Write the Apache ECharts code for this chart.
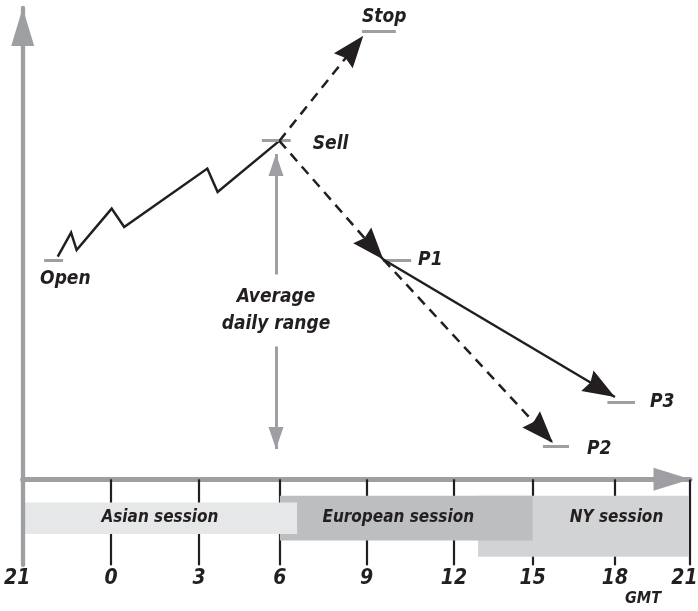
<!DOCTYPE html>
<html>
<head>
<meta charset="utf-8">
<script src="https://cdn.jsdelivr.net/npm/echarts@6/dist/echarts.min.js"></script>
<style>
html,body{margin:0;padding:0;background:#fff;}
#c{width:698px;height:611px;}
</style>
</head>
<body>
<div id="c"></div>
<script>
// ---------------- DATA ----------------
// Time axis: hours after 21:00 GMT, as drawn (tick positions)
const tickPos    = [0, 3.18, 6.34, 9.25, 12.37, 15.51, 18.34, 21.30, 24];
const tickLabels = ['21', '0', '3', '6', '9', '12', '15', '18', '21'];

// Price path from the open up to the sell level
const pathTime  = [1.26, 1.74, 1.94, 3.20, 3.65, 6.64, 7.01, 9.23];
const pathPrice = [51.95, 57.56, 53.50, 63.18, 58.87, 72.53, 67.06, 78.98];

// Price levels (short grey markers)
const levelNames = ['Open', 'Sell', 'Stop', 'P1', 'P2', 'P3'];
const levelFrom  = [0.77, 8.60, 12.20, 12.96, 18.71, 21.03];
const levelTo    = [1.45, 9.64, 13.42, 13.97, 19.65, 22.02];
const levelPrice = [51.09, 79.14, 104.56, 51.09, 7.60, 18.05];

// Projected moves (arrows)
const moveFromTime  = [9.23, 9.23, 12.97, 12.97];
const moveFromPrice = [78.98, 78.98, 51.30, 51.30];
const moveToTime    = [12.25, 12.97, 19.07, 21.30];
const moveToPrice   = [103.5, 51.30, 8.50, 19.20];
const moveDashed    = [true, true, true, false];

// Trading sessions
const sessionNames = ['Asian session', 'European session', 'NY session'];
const sessionFrom  = [0, 9.25, 16.38];
const sessionTo    = [9.87, 18.34, 23.96];

// Average daily range arrow
const adrTime   = 9.11;
const adrTop    = 75.9;
const adrBottom = 7.1;
const adrText   = 'Average\ndaily range';

// ---------------- STYLE ----------------
const FONT = "'Liberation Sans Narrow','DejaVu Sans Condensed','Roboto Condensed','Liberation Sans',sans-serif";
const INK = '#231f20';
const GREY = '#9d9fa2';
const ARROW = 'path://M12,0 L24,32 L12,28.5 L0,32 Z';
const sessionStyle = [
  {top: -5.42, bottom: -12.74, color: '#e6e7e8', z2: 3, dx: 0},
  {top: -3.86, bottom: -14.31, color: '#bcbec0', z2: 2, dx: -8},
  {top: -3.86, bottom: -18.05, color: '#d1d3d4', z2: 1, dx: 33}
];
const sessionLabelY = -9.0;
const levelLabelStyle = {
  Open: {position: 'insideStartBottom', distance: [-4, 9]},
  Sell: {position: 'end', distance: 22, verticalAlign: 'top', lineHeight: 8},
  Stop: {position: 'insideStartTop', distance: [0, 5]},
  P1:   {position: 'end', distance: 7},
  P2:   {position: 'end', distance: 18, verticalAlign: 'top', lineHeight: 4},
  P3:   {position: 'end', distance: 15}
};
const labelFont = {fontFamily: FONT, fontSize: 19, fontWeight: 'bold', fontStyle: 'italic', color: INK, opacity: 1};
const tickFont = {color: INK, fontFamily: FONT, fontSize: 21, fontWeight: 'bold', fontStyle: 'italic'};

function tickLabelFor(v) {
  let best = 0;
  tickPos.forEach((p, i) => { if (Math.abs(p - v) < Math.abs(tickPos[best] - v)) best = i; });
  const txt = tickLabels[best];
  return (best === 0 || best === tickPos.length - 1) ? '{edge|' + txt + '}' : txt;
}

const pathData = pathTime.map((t, i) => [t, pathPrice[i]]);

const levelLines = levelNames.map((n, i) => [
  {coord: [levelFrom[i], levelPrice[i]], symbol: 'none'},
  {coord: [levelTo[i], levelPrice[i]], symbol: 'none', name: n,
   label: Object.assign({show: true, formatter: n}, labelFont, levelLabelStyle[n])}
]);

const moveLines = moveFromTime.map((t, i) => [
  {coord: [t, moveFromPrice[i]], symbol: 'none'},
  {coord: [moveToTime[i], moveToPrice[i]], symbol: ARROW, symbolSize: [24, 32], symbolOffset: [0, 16],
   lineStyle: {color: INK, width: 2.5, type: moveDashed[i] ? [10, 7] : 'solid'}}
]);

const adrLines = [[
  {coord: [adrTime, adrBottom], symbol: 'triangle', symbolSize: [15, 22], symbolOffset: [0, 11]},
  {coord: [adrTime, adrTop], symbol: 'triangle', symbolSize: [15, 22], symbolOffset: [0, 11]}
]];

const chart = echarts.init(document.getElementById('c'), null, {renderer: 'canvas', width: 698, height: 611});

const option = {
  animation: false,
  backgroundColor: '#ffffff',
  grid: {left: 22.7, right: 8, top: 8, bottom: 46, containLabel: false, outerBoundsMode: 'none'},
  xAxis: [{
    type: 'value', min: 0, max: 24, position: 'bottom',
    axisLine: {show: true, onZero: true, lineStyle: {color: GREY, width: 5},
      symbol: ['none', 'triangle'], symbolSize: [23, 37], symbolOffset: [0, -18]},
    axisTick: {show: true, customValues: tickPos.slice(1), length: 86, lineStyle: {color: INK, width: 2.2}},
    axisLabel: {show: false},
    splitLine: {show: false},
    name: 'GMT', nameLocation: 'end', nameGap: -47, nameMoveOverlap: false,
    nameTextStyle: {color: INK, fontFamily: FONT, fontSize: 16, fontWeight: 'bold', fontStyle: 'italic',
      align: 'center', verticalAlign: 'top', padding: [112, 0, 0, 0]}
  }, {
    type: 'value', min: 0, max: 24, position: 'bottom', offset: 0,
    axisLine: {show: false, onZero: false},
    axisTick: {show: false},
    splitLine: {show: false},
    axisLabel: Object.assign({show: true, customValues: tickPos, formatter: tickLabelFor, margin: 3,
      showMinLabel: true, showMaxLabel: true, hideOverlap: false,
      rich: {edge: Object.assign({padding: [0, 11, 0, 0]}, tickFont)}}, tickFont)
  }],
  yAxis: {
    type: 'value', min: -20, max: 110, z: 4,
    axisLine: {show: true, onZero: true, lineStyle: {color: GREY, width: 4.3},
      symbol: ['none', 'triangle'], symbolSize: [23, 38], symbolOffset: [0, -19]},
    axisTick: {show: false}, axisLabel: {show: false}, splitLine: {show: false}
  },
  series: [
    {
      name: 'sessions', type: 'custom', z: 2, silent: true,
      data: sessionNames.map((n, i) => [sessionFrom[i], sessionTo[i], i]),
      encode: {x: [0, 1]},
      renderItem: function (params, api) {
        const i = api.value(2);
        const st = sessionStyle[i];
        const p0 = api.coord([api.value(0), st.top]);
        const p1 = api.coord([api.value(1), st.bottom]);
        const ly = api.coord([0, sessionLabelY])[1];
        return {type: 'group', children: [
          {type: 'rect', z2: st.z2, shape: {x: p0[0], y: p0[1], width: p1[0] - p0[0], height: p1[1] - p0[1]},
           style: {fill: st.color}},
          {type: 'text', z2: 20, style: {text: sessionNames[i], x: (p0[0] + p1[0]) / 2 + st.dx, y: ly,
           align: 'center', verticalAlign: 'middle', fill: INK,
           font: 'italic bold 17px ' + FONT}}
        ]};
      }
    },
    {
      name: 'levels', type: 'line', z: 2, data: [], silent: true,
      markLine: {silent: true, animation: false, symbol: ['none', 'none'],
        lineStyle: {color: GREY, width: 3, type: 'solid'}, label: {show: false},
        emphasis: {disabled: true}, data: levelLines}
    },
    {
      name: 'price', type: 'line', z: 3, data: pathData, symbol: 'none', showSymbol: false, silent: true,
      lineStyle: {color: INK, width: 2.5, join: 'miter'}
    },
    {
      name: 'moves', type: 'line', z: 3, data: [], silent: true,
      markLine: {silent: true, animation: false, symbol: ['none', 'none'],
        lineStyle: {color: INK, width: 2.5}, label: {show: false},
        emphasis: {disabled: true}, data: moveLines}
    },
    {
      name: 'adr', type: 'line', z: 3, data: [], silent: true,
      markLine: {silent: true, animation: false, symbol: ['none', 'none'],
        lineStyle: {color: GREY, width: 3, type: 'solid'}, label: {show: false},
        emphasis: {disabled: true}, data: adrLines}
    },
    {
      name: 'adrLabel', type: 'scatter', z: 5, silent: true, symbolSize: 0,
      itemStyle: {opacity: 1},
      data: [[adrTime, (adrTop + adrBottom) / 2]],
      label: Object.assign({show: true, position: 'inside', formatter: adrText, offset: [0, 9],
        backgroundColor: '#ffffff', padding: [9, 4], lineHeight: 27, align: 'center'}, labelFont)
    }
  ]
};
chart.setOption(option);
</script>
</body>
</html>
